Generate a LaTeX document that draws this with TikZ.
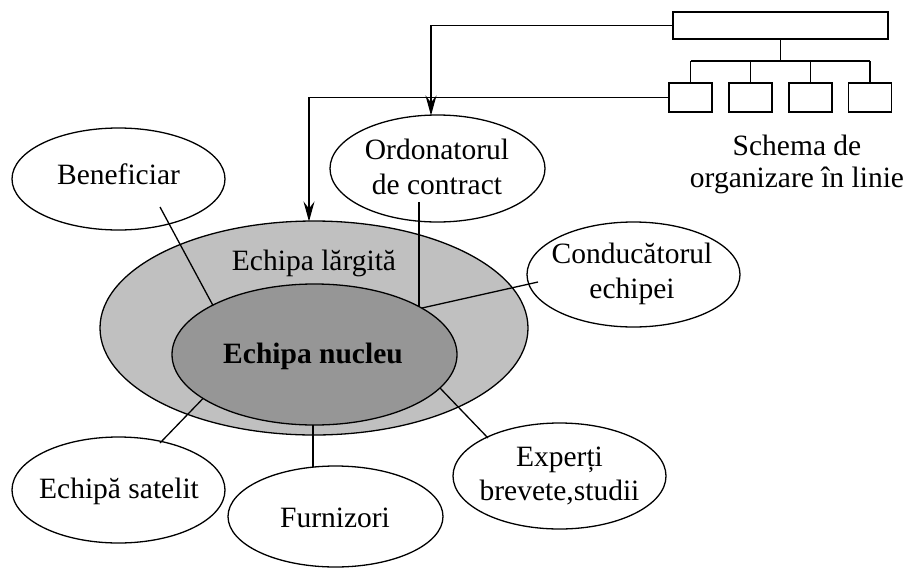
\documentclass[tikz,border=0pt]{standalone}
\usepackage{fontspec}
\setmainfont{Liberation Serif}
\usetikzlibrary{shapes.geometric,arrows.meta}
\begin{document}
\begin{tikzpicture}[x=1pt,y=-1pt,
  oval/.style={ellipse,draw,line width=1.3pt,inner sep=0pt},
  lbl/.style={anchor=base,inner sep=0pt,font=\fontsize{29.5}{35}\selectfont},
  link/.style={line width=1.3pt},
  arr/.style={line width=1.3pt,-{Stealth[length=20pt,width=11pt,inset=7pt]}},
  boxx/.style={draw,line width=1.3pt,inner sep=0pt,fill=white}]
\useasboundingbox (0,0) rectangle (905,568);
\definecolor{wideGray}{RGB}{192,192,192}
\definecolor{coreGray}{RGB}{150,150,150}
% team ellipses
\node[oval,fill=wideGray,minimum width=428pt,minimum height=214pt] (wide) at (314,328) {};
\node[oval,fill=coreGray,minimum width=285pt,minimum height=141pt] (core) at (314.5,354.5) {};
% satellite ellipses
\node[oval,minimum width=213pt,minimum height=102pt] (benef) at (118.5,179) {};
\node[oval,minimum width=215pt,minimum height=107pt] (ordo) at (437.5,168.5) {};
\node[oval,minimum width=213pt,minimum height=105pt] (cond) at (633.5,274.5) {};
\node[oval,minimum width=213pt,minimum height=106pt] (satel) at (118.5,490) {};
\node[oval,minimum width=215pt,minimum height=101pt] (furn) at (335.5,516.5) {};
\node[oval,minimum width=213pt,minimum height=106pt] (expert) at (559.5,476) {};
% organisation chart
\node[boxx,minimum width=215pt,minimum height=27pt] (top) at (780.5,25.5) {};
\node[boxx,minimum width=43pt,minimum height=29pt] (b1) at (690.5,97.5) {};
\node[boxx,minimum width=43pt,minimum height=29pt] (b2) at (750.5,97.5) {};
\node[boxx,minimum width=43pt,minimum height=29pt] (b3) at (810.5,97.5) {};
\node[boxx,minimum width=43pt,minimum height=29pt] (b4) at (870,97.5) {};
\coordinate (bus) at (780.5,61);
\draw[link] (top.south) -- (bus);
\draw[link] (b1.north |- bus) -- (b4.north |- bus);
\foreach \b in {b1,b2,b3,b4} \draw[link] (\b.north |- bus) -- (\b.north);
% arrows
\coordinate (ordoTop) at (431,115.5);
\coordinate (wideTop) at (309,221.5);
\draw[arr] (top.west) -| (ordoTop);
\draw[arr] (b1.west) -| (wideTop);
% connectors
\coordinate (benefIn) at (160,207);   \coordinate (coreB) at (213,305.5);
\coordinate (ordoIn) at (419,202);    \coordinate (coreO) at (419,307);
\coordinate (condIn) at (538,282);    \coordinate (coreC) at (422,308);
\coordinate (satelIn) at (160,443);   \coordinate (coreS) at (203,398.5);
\coordinate (furnTop) at (313,467);   \coordinate (coreF) at (313,425);
\coordinate (expertIn) at (488,438);  \coordinate (coreE) at (440,388);
\draw[link] (benefIn) -- (coreB);
\draw[link] (ordoIn) -- (coreO);
\draw[link] (condIn) -- (coreC);
\draw[link] (satelIn) -- (coreS);
\draw[link] (coreF) -- (furnTop);
\draw[link] (expertIn) -- (coreE);
% labels
\node[lbl] (tWide) at (314,270) {Echipa lărgită};
\node[lbl,font=\fontsize{29.5}{35}\selectfont\bfseries] (tCore) at (313,363) {Echipa nucleu};
\node[lbl] (tBenef) at (118.5,184) {Beneficiar};
\node[lbl] (tOrdo1) at (437,159) {Ordonatorul};
\node[lbl] (tOrdo2) at (437,194) {de contract};
\node[lbl] (tCond1) at (632,263) {Conducătorul};
\node[lbl] (tCond2) at (632,298) {echipei};
\node[lbl] (tSatel) at (119,498) {Echipă satelit};
\node[lbl] (tFurn) at (335,527) {Furnizori};
\node[lbl] (tExp1) at (559.5,466) {Experți};
\node[lbl] (tExp2) at (559.5,500) {brevete,studii};
\node[lbl] (tSch1) at (797,155) {Schema de};
\node[lbl] (tSch2) at (797,187) {organizare în linie};
\end{tikzpicture}
\end{document}
